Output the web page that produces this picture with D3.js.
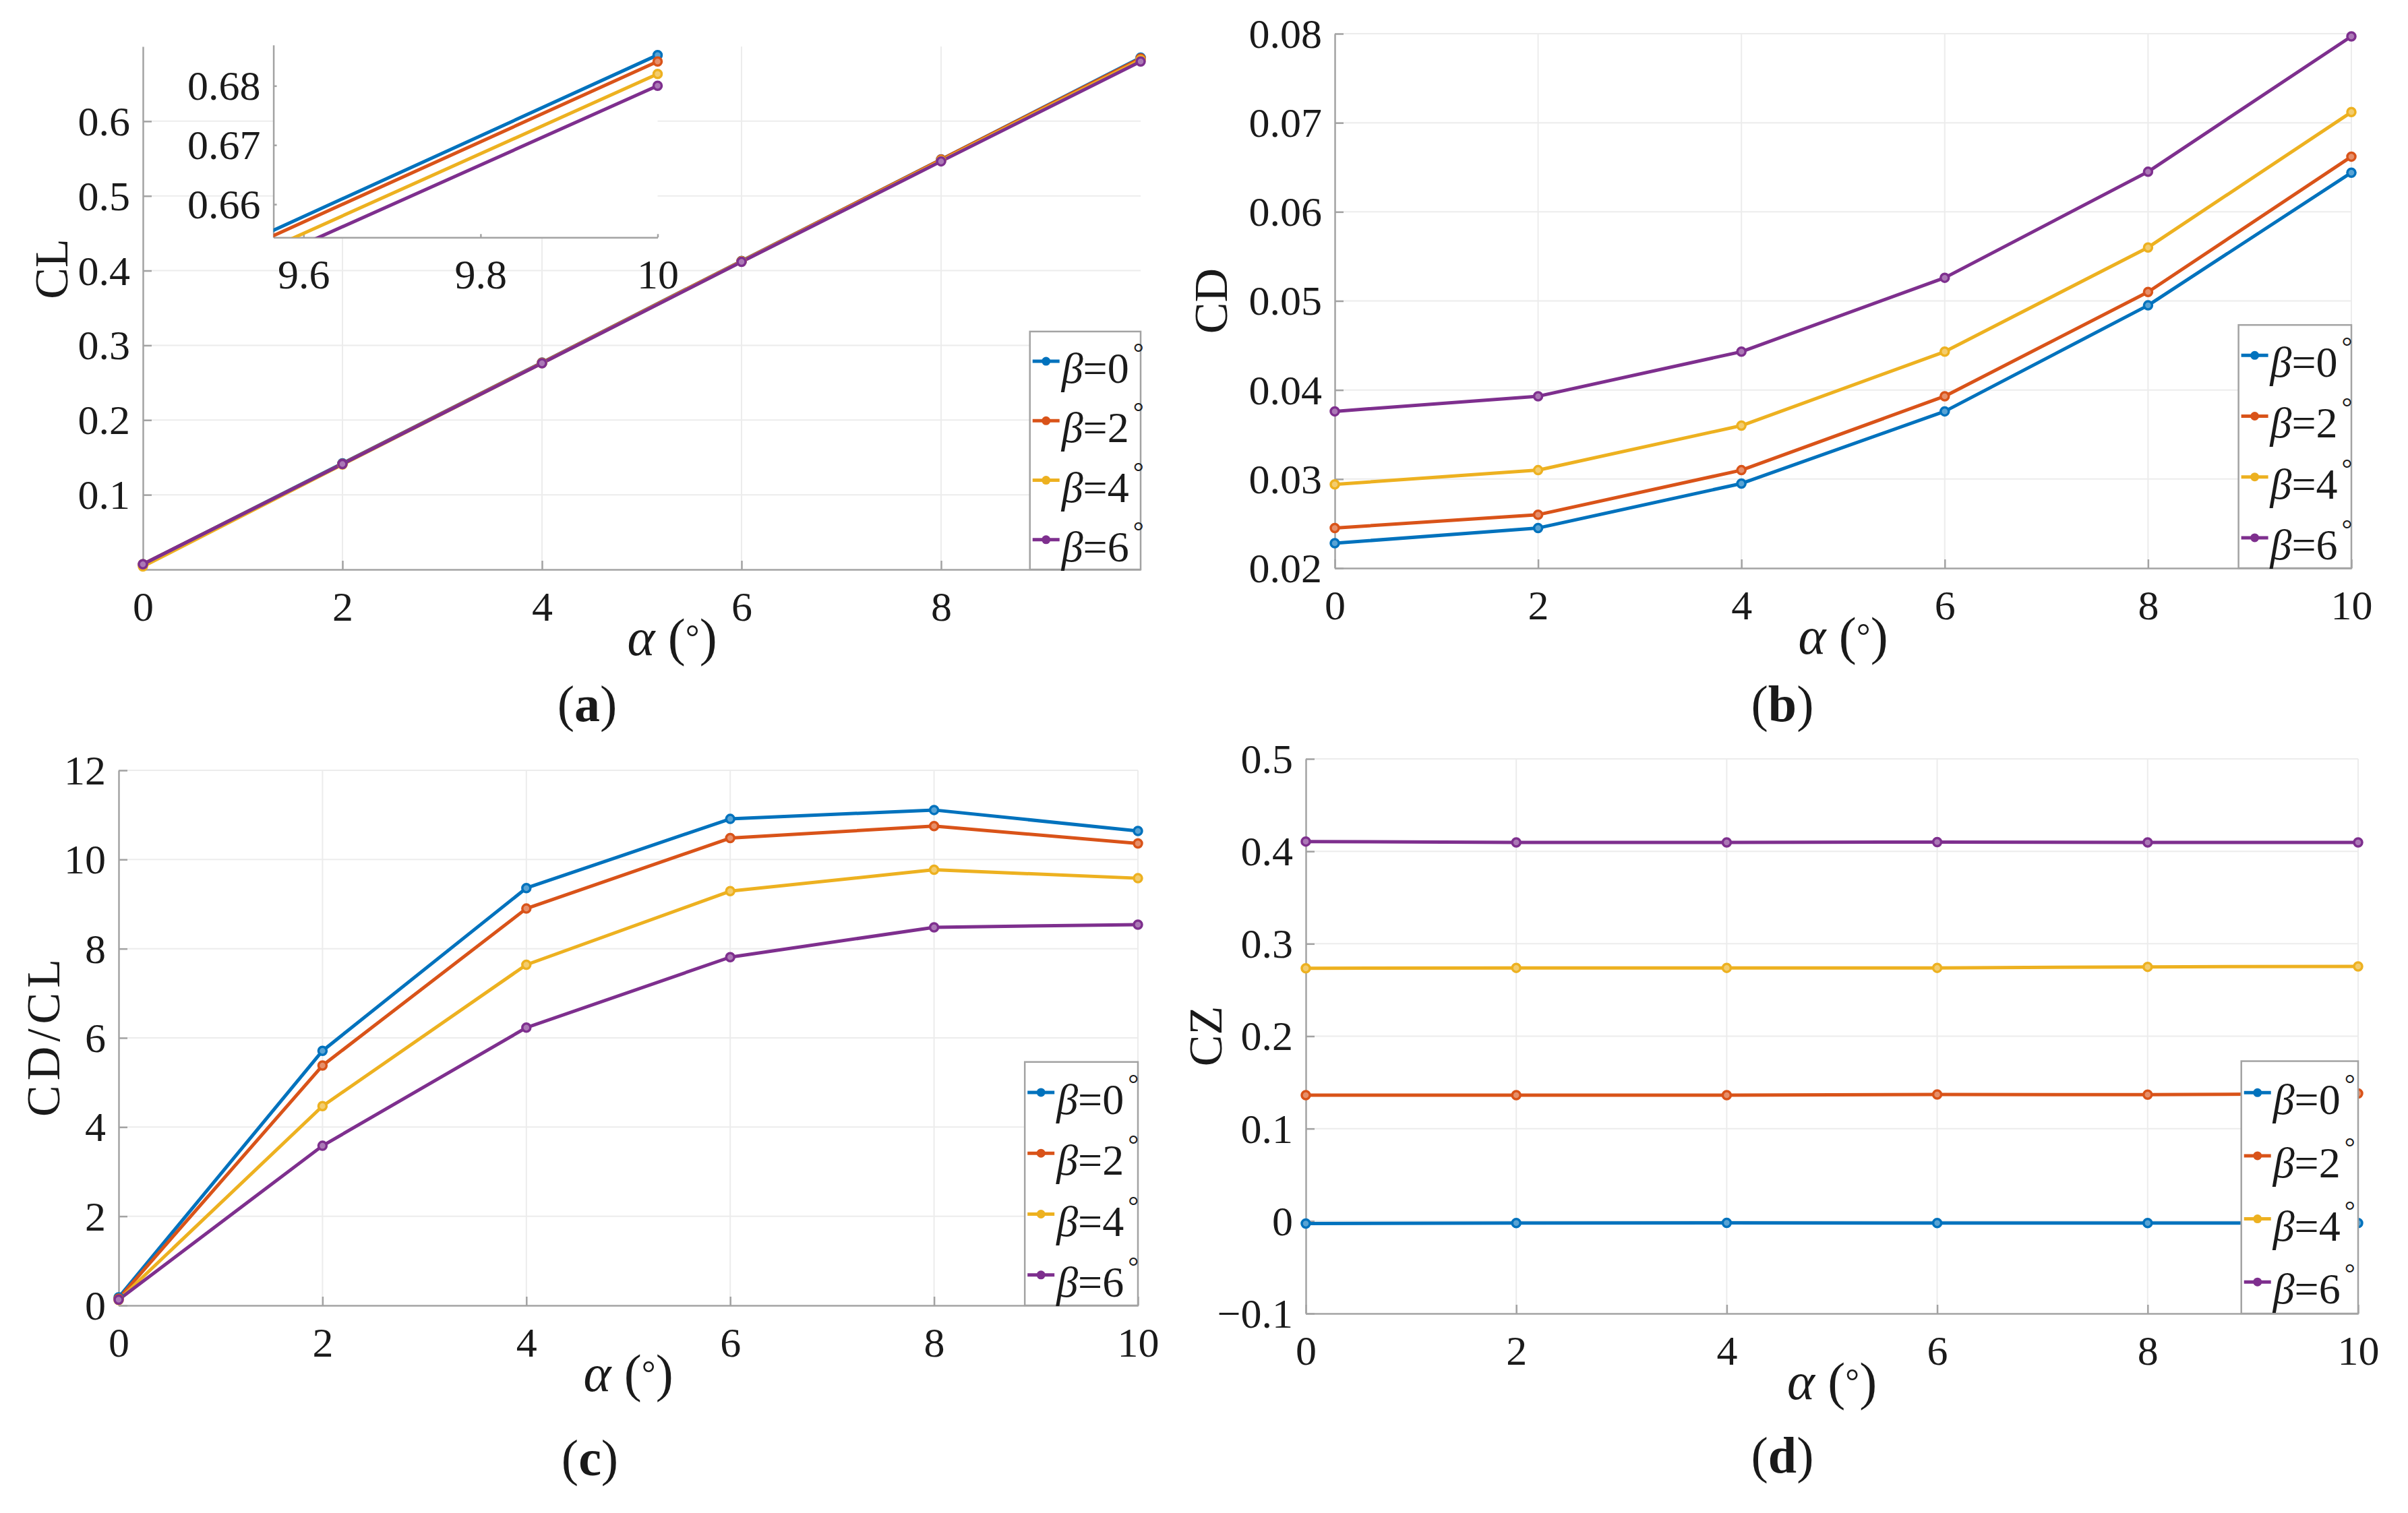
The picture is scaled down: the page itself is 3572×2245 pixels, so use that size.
<!DOCTYPE html>
<html><head><meta charset="utf-8">
<script src="https://cdn.jsdelivr.net/npm/d3@7"></script>
<style>
body{margin:0;background:#fff}
svg{display:block}
text{font-family:"Liberation Serif","Tinos","DejaVu Serif","Noto Serif","Times New Roman",serif;fill:#1a1a1a}
</style>
</head><body>
<svg id="c" width="3572" height="2245"></svg>
<script>
// ---------------- data ----------------
const alphaDeg = [0, 2, 4, 6, 8, 10];
const betaValues = [0, 2, 4, 6];
const seriesColors = ["#0072BD", "#D95319", "#EDB120", "#7E2F8E"];

// (a) CL
const clBeta0 = [0.007, 0.1420, 0.2770, 0.4130, 0.5488, 0.6852];
const clBeta2 = [0.007, 0.1415, 0.2768, 0.4128, 0.5486, 0.6841];
const clBeta4 = [0.004, 0.1405, 0.2762, 0.4122, 0.5474, 0.6820];
const clBeta6 = [0.007, 0.1412, 0.2760, 0.4118, 0.5463, 0.6800];

// (b) CD
const cdBeta0 = [0.0228, 0.0245, 0.0295, 0.0376, 0.0495, 0.0644];
const cdBeta2 = [0.0245, 0.0260, 0.0310, 0.0393, 0.0510, 0.0662];
const cdBeta4 = [0.0294, 0.0310, 0.0360, 0.0443, 0.0560, 0.0712];
const cdBeta6 = [0.0376, 0.0393, 0.0443, 0.0526, 0.0645, 0.0797];

// (c) CD/CL
const ratioBeta0 = [0.18, 5.71, 9.36, 10.91, 11.11, 10.64];
const ratioBeta2 = [0.15, 5.38, 8.90, 10.48, 10.75, 10.36];
const ratioBeta4 = [0.12, 4.47, 7.64, 9.29, 9.77, 9.58];
const ratioBeta6 = [0.13, 3.58, 6.23, 7.81, 8.48, 8.54];

// (d) CZ
const czBeta0 = [-0.0027, -0.0022, -0.0020, -0.0022, -0.0022, -0.0022];
const czBeta2 = [0.1362, 0.1362, 0.1362, 0.1370, 0.1367, 0.1380];
const czBeta4 = [0.2734, 0.2739, 0.2739, 0.2739, 0.2750, 0.2755];
const czBeta6 = [0.4106, 0.4096, 0.4096, 0.4100, 0.4096, 0.4096];

// tick values
const clXTicks = [0, 2, 4, 6, 8];
const clYTicks = [0.1, 0.2, 0.3, 0.4, 0.5, 0.6];
const insetXTicks = [9.6, 9.8, 10];
const insetYTicks = [0.66, 0.67, 0.68];
const fullXTicks = [0, 2, 4, 6, 8, 10];
const cdYTicks = [0.02, 0.03, 0.04, 0.05, 0.06, 0.07, 0.08];
const ratioYTicks = [0, 2, 4, 6, 8, 10, 12];
const czYTicks = [-0.1, 0, 0.1, 0.2, 0.3, 0.4, 0.5];

const yLabels = ["CL", "CD", "CD/CL", "CZ"];
const panelLetters = ["a", "b", "c", "d"];

// ---------------- drawing ----------------
const FONT = '"Liberation Serif","Tinos","DejaVu Serif","Noto Serif","Times New Roman",serif';
const svg = d3.select("#c");
const FS = 62;
const AXIS_COL = "#a3a3a3";
const GRID_COL = "#ececec";
const fmt = d => String(+(+d).toFixed(3)).replace("-", "\u2212");

const panels = [
  {series:[clBeta0, clBeta2, clBeta4, clBeta6], x0:212, x1:1692, y0:69, y1:845,
   xd:[0,10], yd:[0,0.7], xt:clXTicks, yt:clYTicks, yl:yLabels[0], ylx:-112, yly:399,
   xlc:997, letter:panelLetters[0], px:871, py:1070},
  {series:[cdBeta0, cdBeta2, cdBeta4, cdBeta6], x0:1980, x1:3488, y0:50, y1:843,
   xd:[0,10], yd:[0.02,0.08], xt:fullXTicks, yt:cdYTicks, yl:yLabels[1], ylx:-160, yly:null,
   xlc:null, letter:panelLetters[1], px:2644, py:1070},
  {series:[ratioBeta0, ratioBeta2, ratioBeta4, ratioBeta6], x0:176, x1:1688, y0:1143, y1:1937,
   xd:[0,10], yd:[0,12], xt:fullXTicks, yt:ratioYTicks, yl:yLabels[2], ylx:-88, yly:null,
   xlc:null, letter:panelLetters[2], px:875, py:2189, ylLen:234},
  {series:[czBeta0, czBeta2, czBeta4, czBeta6], x0:1937, x1:3498, y0:1126, y1:1949,
   xd:[0,10], yd:[-0.1,0.5], xt:fullXTicks, yt:czYTicks, yl:yLabels[3], ylx:-125, yly:null,
   xlc:null, letter:panelLetters[3], px:2644, py:2185}
];

function drawSeries(g, x, y, series) {
  const line = d3.line().x((d, i) => x(alphaDeg[i])).y(d => y(d));
  series.forEach((vals, si) => {
    g.append("path").datum(vals).attr("d", line)
      .attr("fill", "none").attr("stroke", seriesColors[si]).attr("stroke-width", 5)
      .attr("stroke-linejoin", "round");
  });
  series.forEach((vals, si) => {
    const c = seriesColors[si];
    g.append("g").selectAll("circle").data(vals.map((v, i) => [alphaDeg[i], v]))
      .join("circle").attr("cx", d => x(d[0])).attr("cy", d => y(d[1])).attr("r", 6)
      .attr("fill", d3.interpolateRgb(c, "#ffffff")(0.35)).attr("stroke", c).attr("stroke-width", 3.5);
  });
}

function styleAxis(ax) {
  ax.attr("font-family", FONT);
  ax.select(".domain").attr("stroke", AXIS_COL).attr("stroke-width", 2.5);
  ax.selectAll(".tick line").attr("stroke", AXIS_COL).attr("stroke-width", 2.5);
  ax.selectAll(".tick text").attr("font-size", FS).attr("fill", "#1a1a1a").attr("font-family", FONT);
}

panels.forEach(p => {
  const x = d3.scaleLinear().domain(p.xd).range([p.x0, p.x1]);
  const y = d3.scaleLinear().domain(p.yd).range([p.y1, p.y0]);
  const W = p.x1 - p.x0, H = p.y1 - p.y0;
  const g = svg.append("g");

  // grid
  g.append("g").selectAll("line").data(p.xt.filter(v => v !== p.xd[0])).join("line")
    .attr("x1", d => x(d)).attr("x2", d => x(d)).attr("y1", p.y0).attr("y2", p.y1)
    .attr("stroke", GRID_COL).attr("stroke-width", 2);
  g.append("g").selectAll("line").data(p.yt.filter(v => v !== p.yd[0])).join("line")
    .attr("x1", p.x0).attr("x2", p.x1).attr("y1", d => y(d)).attr("y2", d => y(d))
    .attr("stroke", GRID_COL).attr("stroke-width", 2);

  // axes
  const axB = g.append("g").attr("transform", `translate(0,${p.y1})`)
    .call(d3.axisBottom(x).tickValues(p.xt).tickFormat(fmt).tickSizeInner(-13).tickSizeOuter(0).tickPadding(32));
  styleAxis(axB);
  const axL = g.append("g").attr("transform", `translate(${p.x0},0)`)
    .call(d3.axisLeft(y).tickValues(p.yt).tickFormat(fmt).tickSizeInner(-13).tickSizeOuter(0).tickPadding(19));
  styleAxis(axL);
  axL.selectAll(".tick text").attr("dy", "0.33em");

  // data
  drawSeries(g, x, y, p.series);

  // legend
  const lw = 0.111 * W, lh = 0.455 * H;
  const lg = g.append("g").attr("transform", `translate(${p.x1 - lw},${p.y1 - lh})`);
  lg.append("rect").attr("width", lw).attr("height", lh).attr("fill", "#fff")
    .attr("stroke", AXIS_COL).attr("stroke-width", 2.5);
  betaValues.forEach((b, i) => {
    const cy = (i + 0.5) * lh / 4;
    const c = seriesColors[i];
    lg.append("line").attr("x1", 4).attr("x2", 44).attr("y1", cy).attr("y2", cy)
      .attr("stroke", c).attr("stroke-width", 5);
    lg.append("circle").attr("cx", 24).attr("cy", cy).attr("r", 6.5).attr("fill", c);
    const t = lg.append("text").attr("x", 47).attr("y", cy + 32).attr("font-size", 64);
    t.append("tspan").attr("font-style", "italic").text("\u03B2");
    t.append("tspan").text("=" + b);
    t.append("tspan").attr("font-size", 40).attr("dx", 6).attr("dy", -31).text("\u00B0");
  });

  // x label
  const xl = g.append("text").attr("x", p.xlc != null ? p.xlc : (p.x0 + p.x1) / 2)
    .attr("y", p.y1 + 127).attr("text-anchor", "middle").attr("font-size", 78);
  xl.append("tspan").attr("font-style", "italic").text("\u03B1");
  xl.append("tspan").text(" (");
  xl.append("tspan").attr("font-size", 52).attr("dy", -9).text("\u00B0");
  xl.append("tspan").attr("dy", 9).text(")");

  // y label
  const yly = p.yly != null ? p.yly : (p.y0 + p.y1) / 2;
  const ylt = g.append("text").attr("transform", `translate(${p.x0 + p.ylx},${yly}) rotate(-90)`)
    .attr("text-anchor", "middle").attr("font-size", 70).text(p.yl);
  if (p.ylLen) ylt.attr("textLength", p.ylLen).attr("lengthAdjust", "spacing");

  // panel label
  const pl = svg.append("text").attr("x", p.px).attr("y", p.py).attr("text-anchor", "middle").attr("font-size", 76);
  pl.append("tspan").text("(");
  pl.append("tspan").attr("font-weight", "bold").text(p.letter);
  pl.append("tspan").text(")");
});

// ---------------- inset in (a) ----------------
(function () {
  const ix0 = 405.6, ix1 = 975.5, iy0 = 66.7, iy1 = 352.3;
  const xDom = [9.566, 10], yDom = [0.6544, 0.6869];
  const x = d3.scaleLinear().domain(xDom).range([ix0, ix1]);
  const y = d3.scaleLinear().domain(yDom).range([iy1, iy0]);
  const g = svg.append("g");
  g.append("rect").attr("x", ix0).attr("y", iy0).attr("width", ix1 - ix0).attr("height", iy1 - iy0).attr("fill", "#fff");
  svg.append("defs").append("clipPath").attr("id", "insetClip").append("rect")
    .attr("x", ix0).attr("y", iy0).attr("width", ix1 - ix0).attr("height", iy1 - iy0);
  const axB = g.append("g").attr("transform", `translate(0,${iy1})`)
    .call(d3.axisBottom(x).tickValues(insetXTicks).tickFormat(fmt).tickSizeInner(-5).tickSizeOuter(0).tickPadding(32));
  styleAxis(axB);
  const axL = g.append("g").attr("transform", `translate(${ix0},0)`)
    .call(d3.axisLeft(y).tickValues(insetYTicks).tickFormat(fmt).tickSizeInner(-5).tickSizeOuter(0).tickPadding(19));
  styleAxis(axL);
  axL.selectAll(".tick text").attr("dy", "0.33em");
  const lines = g.append("g").attr("clip-path", "url(#insetClip)");
  const dg = g.append("g");
  const series = [clBeta0, clBeta2, clBeta4, clBeta6];
  const line = d3.line().x((d, i) => x(alphaDeg[i])).y(d => y(d));
  series.forEach((vals, si) => {
    lines.append("path").datum(vals).attr("d", line).attr("fill", "none")
      .attr("stroke", seriesColors[si]).attr("stroke-width", 5);
  });
  series.forEach((vals, si) => {
    const c = seriesColors[si];
    dg.append("g").selectAll("circle").data(vals.map((v, i) => [alphaDeg[i], v])
      .filter(d => d[0] >= xDom[0] && d[0] <= xDom[1] && d[1] >= yDom[0] && d[1] <= yDom[1]))
      .join("circle").attr("cx", d => x(d[0])).attr("cy", d => y(d[1])).attr("r", 6)
      .attr("fill", d3.interpolateRgb(c, "#fff")(0.35)).attr("stroke", c).attr("stroke-width", 3.5);
  });
})();
</script>
</body></html>
